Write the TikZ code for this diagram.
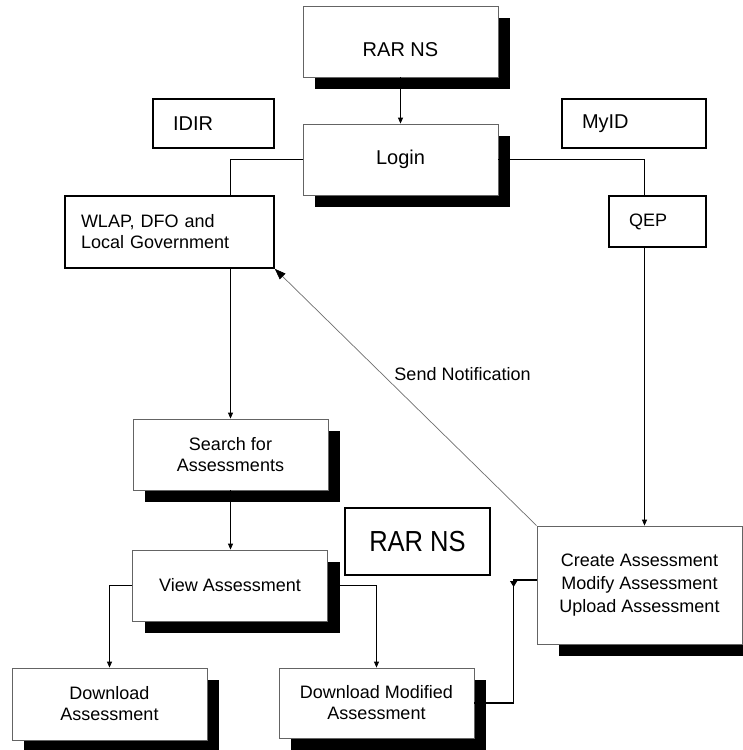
\documentclass[tikz,border=0pt]{standalone}
\usepackage{fontspec}
\setmainfont{Liberation Sans}
\newfontfamily\narrowfont[FakeStretch=0.88]{Liberation Sans}
\usetikzlibrary{arrows.meta, shadows, decorations.markings}
\definecolor{boxgray}{RGB}{100, 100, 100}
\definecolor{linegray}{RGB}{110, 110, 110}
\definecolor{textblack}{RGB}{0, 0, 0}

\begin{document}
\begin{tikzpicture}[
        x=1pt, y=-1pt,
        shadowbox/.style={rectangle, draw=boxgray, line width=0.8pt, fill=white, align=center, minimum width=195pt, minimum height=71pt, text=textblack, font=\fontsize{18}{21}\selectfont, drop shadow={shadow xshift=#1, shadow yshift=-12pt, fill=black, opacity=1}},
        shadowbox/.default=12pt,
        topbox/.style={shadowbox, font=\fontsize{20}{24}\selectfont},
        userbox/.style={rectangle, draw=black, line width=1.6pt, fill=white, inner xsep=20pt, align=left, text=textblack, font=\fontsize{20}{24}\selectfont},
        flow/.style={line width=0.8pt, color=black},
        arrowflow/.style={flow, -{Triangle[length=6pt, width=5pt]}},
        notify/.style={line width=0.7pt, color=linegray, -{Triangle[length=11pt, width=8pt, color=black]}}
    ]
    \useasboundingbox (0, 0) rectangle (743, 750);

    % Login part at the top
    \node[topbox] (rarns) at (400.5, 41.5) {\raisebox{-15pt}[0pt][0pt]{RAR NS}};
    \node[topbox] (login) at (400.5, 159.5) {Login};
    \node[userbox, text width=81pt, minimum height=49pt] (idir) at (213.5, 123.5) {IDIR};
    \node[userbox, text width=104pt, minimum height=49pt] (myid) at (634, 123.5) {MyID};
    \node[userbox, inner xsep=16pt, text width=177pt, minimum height=72pt, font=\fontsize{18}{21}\selectfont] (wlap) at (169.5, 232) {WLAP, DFO and\\Local Government};
    \node[userbox, text width=57pt, minimum height=51pt, font=\fontsize{18}{21}\selectfont] (qep) at (657.5, 221.5) {QEP};

    % Assessment steps
    \node[shadowbox] (srch) at (230.5, 454.5) {Search for\\Assessments};
    \node[shadowbox] (view) at (230, 585.5) {View Assessment};
    \node[shadowbox, minimum height=72pt] (dl) at (109.5, 704) {Download\\Assessment};
    \node[shadowbox, minimum height=70pt] (dm) at (376.5, 703) {Download Modified\\Assessment};
    \node[shadowbox=22pt, minimum width=205pt, minimum height=118pt, font=\fontsize{18}{23}\selectfont] (cr) at (639.5, 585) {Create Assessment\\Modify Assessment\\Upload Assessment};
    \node[userbox, inner xsep=0pt, align=center, minimum width=145pt, minimum height=67pt, font=\narrowfont\fontsize{29}{32}\selectfont] (rarnote) at (417.5, 541.5) {RAR NS};

    % Connectors
    \draw[arrowflow] (rarns.south) -- (login.north);
    \draw[flow] (login.west) -| (srch.north |- wlap.north);
    \draw[flow] (login.east) -| ([xshift=-13pt]qep.north);
    \draw[arrowflow] (srch.north |- wlap.south) -- (srch.north);
    \draw[arrowflow] ([xshift=-13pt]qep.south) -- ([xshift=-13pt]qep.south |- cr.north);
    \draw[arrowflow] (srch.south) -- (srch.south |- view.north);
    \draw[arrowflow] (view.west) -| (dl.north);
    \draw[arrowflow] (view.east) -| (dm.north);
    \draw[notify] (cr.north west) -- node[pos=0.59, anchor=west, xshift=12pt, inner sep=0pt, text=textblack, font=\fontsize{18}{21}\selectfont] {Send Notification} (wlap.south east);
    \draw[flow, line width=1.2pt, postaction={decorate}, decoration={markings, mark=at position 30pt with {\arrow{Triangle[length=6pt, width=7pt]}}}] ([yshift=5pt]cr.west) -- ++(-23pt, 0) |- (dm.east);

\end{tikzpicture}
\end{document}
